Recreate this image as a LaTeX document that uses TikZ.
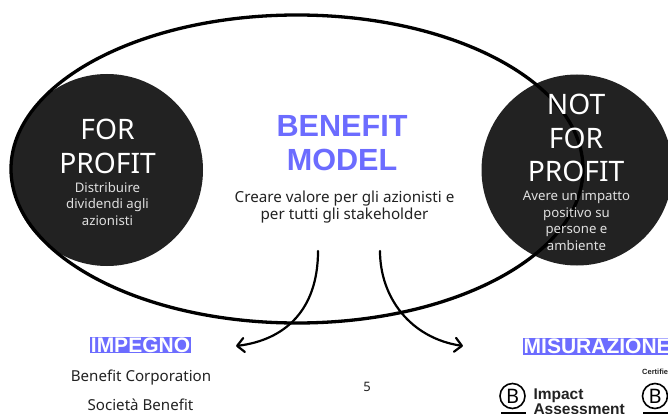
\documentclass[tikz,border=0pt]{standalone}
\usepackage{fontspec}
\setmainfont{Noto Sans}
\newfontfamily\strongf{Liberation Sans}
\usetikzlibrary{arrows.meta}
\definecolor{disc}{HTML}{222222}
\definecolor{violet}{HTML}{6C6CFF}
\definecolor{ink}{HTML}{222222}
\newcommand{\fs}[2]{\fontsize{#1}{#2}\selectfont}
\tikzset{
  x=1pt,y=-1pt,
  disc/.style={circle,fill=disc,draw=none,minimum size=#1,inner sep=0},
  bigwhite/.style={text=white,align=center,font=\fs{28.2}{33.2}},
  smallwhite/.style={text=white!88!black,align=center,font=\fs{13.2}{16.6}},
  heading/.style={fill=violet,text=white,font=\strongf\fs{21}{24}\bfseries,inner xsep=1pt,inner ysep=1pt},
  body/.style={text=ink,font=\fs{15.1}{18}},
  flow/.style={draw=black,line width=2.2pt,line cap=round,line join=round,-{Straight Barb[length=7pt,width=14pt,line width=2.2pt,round]}},
  logo/.style={circle,draw=black,line width=1.6pt,minimum size=25pt,inner sep=0,font=\fs{20}{24}},
  rulebar/.style={draw=black,line width=1.4pt}
}
\begin{document}
\begin{tikzpicture}
\useasboundingbox (0,0) rectangle (668,414);
\clip (0,0) rectangle (668,414);
\fill[white] (0,0) rectangle (668,414);
\node[disc=192pt] (forp) at (107,170) {};
\node[disc=191pt] (notp) at (577,170) {};
\draw[black,line width=3.3pt] (297,169) ellipse [x radius=286,y radius=154];
\node[bigwhite] (t1) at (107.5,146.5) {FOR\\PROFIT};
\node[smallwhite] (t2) at (107.5,204) {Distribuire\\dividendi agli\\azionisti};
\node[bigwhite] (t3) at (576,138) {NOT\\FOR\\PROFIT};
\node[smallwhite] (t4) at (576.5,220.5) {Avere un impatto\\positivo su\\persone e\\ambiente};
\node[text=violet,font=\strongf\fs{30.6}{34}\bfseries,align=center] (title) at (342,143) {BENEFIT\\MODEL};
\node[text=ink,font=\fs{15.2}{17},align=center] (sub) at (344.5,207.5) {Creare valore per gli azionisti e\\per tutti gli stakeholder};
\node[heading] (imp) at (140.5,345) {IMPEGNO};
\node[heading,anchor=west] (mis) at (522.5,346.5) {MISURAZIONE};
\node[body] (bc) at (141,378) {Benefit Corporation};
\node[body] (sb) at (140.5,404.5) {Società Benefit};
\node[text=ink,font=\fs{13}{16}] (pg) at (367,387) {5};
\coordinate (a1) at (318,251);
\coordinate (a2) at (236,346);
\coordinate (b1) at (380,251);
\coordinate (b2) at (463,346);
\draw[flow] (a1) .. controls (318,310) and (285,340) .. (a2);
\draw[flow] (b1) .. controls (380,297) and (410,338) .. (b2);
\node[logo] (l1) at (512.5,396) {B};
\draw[rulebar] (501,413) -- (526,413);
\node[anchor=west,font=\strongf\fs{15.5}{13.5}\bfseries,text=ink,align=left] (ia) at (530,402) {Impact\\Assessment};
\node[logo] (l2) at (655,396) {B};
\draw[rulebar] (643,413) -- (668,413);
\node[anchor=west,font=\strongf\fs{7.5}{8}\bfseries,text=ink,inner sep=0] (cert) at (642,372) {Certified};
\end{tikzpicture}
\end{document}
